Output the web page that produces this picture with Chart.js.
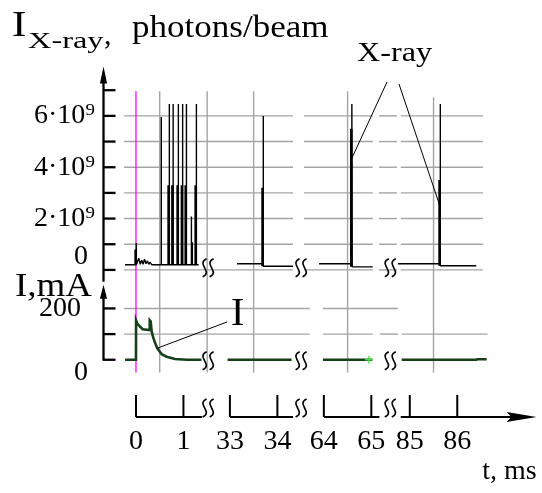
<!DOCTYPE html>
<html><head><meta charset="utf-8">
<script src="https://cdn.jsdelivr.net/npm/chart.js@4.4.0/dist/chart.umd.min.js"></script>
<style>html,body{margin:0;padding:0;background:#fff}canvas{display:block}</style>
</head><body>
<canvas id="c" width="542" height="493"></canvas>
<script>
// ---------------- data ----------------
// broken time axis (ms)
const segStartTime   = [0, 33, 64, 85];
const tickTimes      = [0, 1, 33, 34, 64, 65, 85, 86];
const tickTimeLabels = ['0', '1', '33', '34', '64', '65', '85', '86'];
const breakTimes     = [1.52, 34.5, 65.4];
const gridTimes      = [0.5, 1.5, 33.5, 64.5, 85.5];

// X-ray intensity axis (units of 1e9 photons/beam)
const xrayTickValues = [6, 4, 2, 0];
const xrayTickLabels = ['6·10⁹', '4·10⁹', '2·10⁹', ['0 ', '']];
const xrayMinorTicks = [0, 1, 2, 3, 4, 5, 6, 7];

// beam current axis (mA)
const currentTickValues = [200, 0];
const currentTickLabels = ['200  ', ['', '0 ']];
const currentMinorTicks = [0, 100, 200];

// X-ray trace: pieces of the broken time axis
const xraySegStart   = [-0.23, 33.15, 63.90, 84.75];
const xraySegEnd     = [1.32, 34.33, 65.03, 86.40];
const xrayBaseBefore = [0.20, 0.24, 0.24, 0.24];
const xrayBaseAfter  = [0.20, 0.14, 0.12, 0.16];
// small noise after injection
const noiseT = [0.06, 0.09, 0.12, 0.15, 0.18, 0.21, 0.24, 0.27, 0.30, 0.33];
const noiseV = [0.45, 0.22, 0.38, 0.22, 0.42, 0.24, 0.35, 0.22, 0.30, 0.20];
// X-ray spikes (time, peak, lower dense part)
const spikeT    = [0.005, 0.53, 0.70, 0.78, 0.89, 0.98, 1.06, 1.165, 1.185, 1.27, 33.70, 64.59, 85.64];
const spikePeak = [1.05, 5.96, 6.46, 6.46, 6.46, 6.46, 6.46, 2.08, 1.08, 6.46, 6.00, 6.46, 6.46];
const spikeBody = [0.80, 0.20, 3.30, 3.30, 3.30, 3.30, 3.30, 0.20, 0.20, 3.30, 3.20, 5.50, 3.50];

// beam current I (mA); null separates the pieces
const currentT = [-0.23, 0, 0.002, 0.03, 0.14, 0.28, 0.29, 0.31, 0.33, 0.364, 0.40, 0.448, 0.541, 0.646, 0.82, 1.07, 1.38,
                  null, 32.95, 34.30, null, 63.98, 65.02, null, 84.83, 86.40, 86.42, 86.62];
const currentI = [0, 0, 154, 140, 119, 116, 154, 150, 111, 86, 67, 45, 22, 12, 3, 0, 0,
                  null, 0, 0, null, 0, 0, null, 0, 0, 2, 2];

const markerTime = [0];          // injection moment (magenta)
const greenMarkT = [64.95];
const greenMarkI = [0];

// annotation anchors
const xrayNoteSpikeT = [64.59, 85.64];
const xrayNoteSpikeV = [4.35, 2.46];
const currentNoteT = 0.448;
const currentNoteI = 45;

// ---------------- layout helpers ----------------
const PX_PER_MS = 47.5;
const SEG_ORIGIN_PX = [136, 230, 324, 410];
function segIndex(t) { return t < 20 ? 0 : t < 50 ? 1 : t < 75 ? 2 : 3; }
function toX(t) { const i = segIndex(t); return SEG_ORIGIN_PX[i] + (t - segStartTime[i]) * PX_PER_MS; }
// lower panel shares the vertical scale: I(mA) -> X-ray units
function yOfCurrent(I) { return -3.5 + I / 100; }

// ---------------- build datasets ----------------
const xrayTrace = [];
const spikeBodies = [];
for (let s = 0; s < xraySegStart.length; s++) {
  const a = xraySegStart[s], b = xraySegEnd[s];
  const ev = [];
  noiseT.forEach((t, i) => { if (t >= a && t <= b) ev.push({t, kind: 'n', v: noiseV[i]}); });
  spikeT.forEach((t, i) => { if (t >= a && t <= b) ev.push({t, kind: 's', i}); });
  ev.sort((p, q) => p.t - q.t);
  const lastSpike = ev.filter(e => e.kind === 's').pop();
  let base = xrayBaseBefore[s];
  xrayTrace.push({x: toX(a), y: base});
  ev.forEach(e => {
    if (e.kind === 'n') { xrayTrace.push({x: toX(e.t), y: e.v}); return; }
    const i = e.i;
    xrayTrace.push({x: toX(e.t), y: base});
    xrayTrace.push({x: toX(e.t), y: spikePeak[i]});
    if (e === lastSpike) base = xrayBaseAfter[s];
    xrayTrace.push({x: toX(e.t + 0.006), y: base});
    if (spikeBody[i] > base + 0.05) {
      spikeBodies.push({x: toX(e.t - 0.012), y: base});
      spikeBodies.push({x: toX(e.t - 0.012), y: spikeBody[i]});
      spikeBodies.push({x: toX(e.t - 0.012), y: null});
    }
  });
  xrayTrace.push({x: toX(b), y: xrayBaseAfter[s]});
  xrayTrace.push({x: toX(b), y: null});
}
const currentData = [];
let lastT = 0;
currentT.forEach((t, i) => {
  if (t === null) currentData.push({x: toX(lastT), y: null});
  else { currentData.push({x: toX(t), y: yOfCurrent(currentI[i])}); lastT = t; }
});

// ---------------- decorations ----------------
const SERIF = '"Liberation Serif", "Times New Roman", serif';
function txt(ctx, s, x, y, size, sx) {
  ctx.save(); ctx.font = size + 'px ' + SERIF; ctx.textAlign = 'left'; ctx.textBaseline = 'alphabetic';
  ctx.fillStyle = '#000'; ctx.translate(x, y); ctx.scale(sx || 1, 1); ctx.fillText(s, 0, 0); ctx.restore();
}
function line(ctx, x1, y1, x2, y2) { ctx.beginPath(); ctx.moveTo(x1, y1); ctx.lineTo(x2, y2); ctx.stroke(); }
function brk(ctx, cx, cy) {
  ctx.save(); ctx.strokeStyle = '#000'; ctx.lineWidth = 1.6;
  [-3.5, 3.5].forEach(d => {
    const x = cx + d; ctx.beginPath(); ctx.moveTo(x + 2, cy - 9);
    ctx.bezierCurveTo(x - 9, cy - 4, x + 9, cy + 4, x - 2, cy + 9); ctx.stroke();
  });
  ctx.restore();
}

const decor = {
  id: 'decor',
  beforeDatasetsDraw(chart) {
    const ctx = chart.ctx, X = chart.scales.x, Y = chart.scales.y;
    const px = t => X.getPixelForValue(toX(t));
    const py = v => Y.getPixelForValue(v);
    const pi = I => Y.getPixelForValue(yOfCurrent(I));
    ctx.save();
    ctx.strokeStyle = '#a4a4a4'; ctx.lineWidth = 1.4;
    const topSegs = [[-0.25, 34.33], [34.56, 65.03], [65.16, 84.73], [84.81, 86.54]];
    xrayMinorTicks.slice(0, 7).forEach(v => topSegs.forEach(([a, b]) => line(ctx, px(a), py(v), px(b), py(v))));
    [[200, [[-0.25, 34.68], [63.98, 84.75]]],
     [100, [[-0.25, 34.68], [63.98, 65.03], [65.18, 84.75], [84.83, 86.64]]]].forEach(([I, segs]) =>
      segs.forEach(([a, b]) => line(ctx, px(a), pi(I), px(b), pi(I))));
    gridTimes.forEach((t, i) => line(ctx, px(t), py(i === 4 ? 6.73 : 6.96), px(t), pi(-50)));
    ctx.restore();
  },
  afterDatasetsDraw(chart) {
    const ctx = chart.ctx, X = chart.scales.x, Y = chart.scales.y;
    const px = t => X.getPixelForValue(toX(t));
    const py = v => Y.getPixelForValue(v);
    const pi = I => Y.getPixelForValue(yOfCurrent(I));
    const ax = Y.right - 0.5;
    ctx.save();
    ctx.strokeStyle = '#000'; ctx.fillStyle = '#000'; ctx.lineWidth = 2.3;
    // upper vertical axis
    line(ctx, ax, py(7.6), ax, py(-0.46));
    xrayMinorTicks.forEach(v => line(ctx, ax, py(v), ax + 12, py(v)));
    ctx.beginPath(); ctx.moveTo(ax, py(7.92)); ctx.lineTo(ax - 3.6, py(7.92) + 17); ctx.lineTo(ax + 3.6, py(7.92) + 17); ctx.closePath(); ctx.fill();
    // lower vertical axis
    line(ctx, ax, pi(270), ax, pi(0) + 1);
    currentMinorTicks.forEach(I => line(ctx, ax, pi(I), ax + 12, pi(I)));
    ctx.beginPath(); ctx.moveTo(ax, pi(292)); ctx.lineTo(ax - 3.6, pi(292) + 14); ctx.lineTo(ax + 3.6, pi(292) + 14); ctx.closePath(); ctx.fill();
    // broken time axis
    const ay = X.top - 3;
    ctx.lineWidth = 2;
    [[0, 1.39], [33, 34.33], [64, 65.17], [84.81, 87.2]].forEach(([a, b]) => line(ctx, px(a), ay, px(b), ay));
    tickTimes.forEach(t => line(ctx, px(t), ay, px(t), ay - 22));
    const tip = px(87.67);
    ctx.beginPath(); ctx.moveTo(tip, ay); ctx.lineTo(tip - 30, ay - 5); ctx.lineTo(tip - 25, ay); ctx.lineTo(tip - 30, ay + 5); ctx.closePath(); ctx.fill();
    // breaks
    breakTimes.forEach(t => { brk(ctx, px(t), py(0.2) + 3); brk(ctx, px(t), pi(0) + 1); brk(ctx, px(t), ay - 9); });
    // annotations
    ctx.lineWidth = 1;
    line(ctx, 387, 82, px(xrayNoteSpikeT[0]), py(xrayNoteSpikeV[0]));
    line(ctx, 399, 84, px(xrayNoteSpikeT[1]), py(xrayNoteSpikeV[1]));
    line(ctx, 227, 322, px(currentNoteT), pi(currentNoteI));
    ctx.restore();
    txt(ctx, 'X-ray', 357, 61, 28, 1.15);
    txt(ctx, 'I', 231, 325, 40, 1);
    // axis titles
    txt(ctx, 'I', 12, 36, 36, 1.2);
    txt(ctx, 'X-ray', 28, 48, 24, 1.35);
    txt(ctx, ',', 104, 44, 30, 1);
    txt(ctx, 'photons/beam', 132, 37, 31, 1.13);
    txt(ctx, 'I,mA', 15, 296, 33, 1.12);
  }
};

Chart.defaults.font.family = SERIF;
Chart.defaults.color = '#000';

const allYTicks = [...xrayTickValues, ...currentTickValues.map(yOfCurrent)];
const allYLabels = [...xrayTickLabels, ...currentTickLabels];

function noPad(s) { s.paddingTop = 0; s.paddingBottom = 0; s.paddingLeft = 0; s.paddingRight = 0; }

new Chart(document.getElementById('c'), {
  type: 'line',
  data: {
    datasets: [
      {label: 'X-ray', data: xrayTrace, borderColor: '#000', borderWidth: 1.4, pointRadius: 0, tension: 0,
       spanGaps: false, borderJoinStyle: 'bevel', order: 1},
      {label: 'X-ray dense', data: spikeBodies, borderColor: '#000', borderWidth: 2.6, pointRadius: 0,
       spanGaps: false, order: 1},
      {label: 'I', data: currentData, borderColor: '#17401a', borderWidth: 2.6, pointRadius: 0, tension: 0,
       spanGaps: false, order: 2},
      {label: 't = 0', data: [{x: toX(markerTime[0]), y: 6.96}, {x: toX(markerTime[0]), y: yOfCurrent(-50)}],
       borderColor: '#ff00ff', borderWidth: 1.3, pointRadius: 0, order: 5},
      {label: 'marker', type: 'scatter', data: greenMarkT.map((t, i) => ({x: toX(t), y: yOfCurrent(greenMarkI[i])})),
       pointStyle: 'cross', pointRadius: 4, borderColor: '#44e044', borderWidth: 1.3, order: 0}
    ]
  },
  options: {
    responsive: false, animation: false, devicePixelRatio: 1,
    layout: {padding: {left: 0, right: 5, top: 0, bottom: 0}},
    plugins: {legend: {display: false}, tooltip: {enabled: false}},
    scales: {
      x: {
        type: 'linear', min: 104, max: 537,
        grid: {display: false, drawTicks: false}, border: {display: false},
        afterBuildTicks: s => { s.ticks = tickTimes.map(t => ({value: toX(t)})); },
        afterFit: s => { s.height = 73; noPad(s); },
        ticks: {autoSkip: false, maxRotation: 0, minRotation: 0, padding: 5,
                font: {size: 28, family: SERIF},
                callback: (v, i) => tickTimeLabels[i]},
        title: {display: true, text: 't, ms', align: 'end', font: {size: 28, family: SERIF},
                padding: {top: 0, bottom: 5}}
      },
      y: {
        type: 'linear', min: -5.8462, max: 10.3077,
        grid: {display: false, drawTicks: false}, border: {display: false},
        afterBuildTicks: s => { s.ticks = allYTicks.map(v => ({value: v})); },
        afterFit: s => { s.width = 104; noPad(s); },
        ticks: {autoSkip: false, padding: 9, font: {size: 28, family: SERIF, lineHeight: 0.93},
                callback: (v, i) => allYLabels[i]}
      }
    }
  },
  plugins: [decor]
});
</script>
</body></html>
